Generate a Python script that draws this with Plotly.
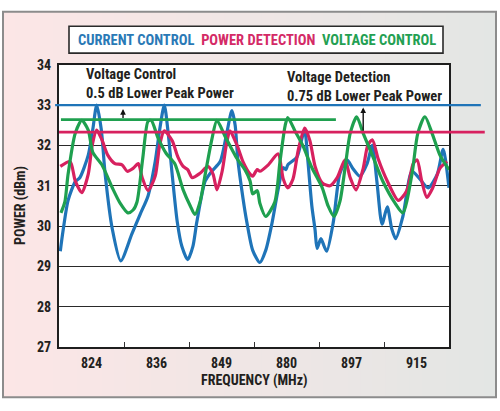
import plotly.graph_objects as go

# ---------------- data (x in band units: 0..6 across the six frequency bands) ----------------
freq_labels = ["824", "836", "849", "880", "897", "915"]

cur_x = [0.02, 0.06, 0.14, 0.25, 0.32, 0.45, 0.52, 0.58, 0.65, 0.71, 0.82, 0.95, 1.12, 1.25, 1.37,
         1.48, 1.55, 1.62, 1.68, 1.74, 1.82, 1.89, 1.98, 2.06, 2.12, 2.25, 2.35, 2.48, 2.58, 2.66,
         2.71, 2.75, 2.83, 2.89, 2.98, 3.09, 3.18, 3.28, 3.37, 3.45, 3.49, 3.52, 3.66, 3.74, 3.78,
         3.83, 3.89, 3.94, 3.97, 4.03, 4.08, 4.12, 4.22, 4.32, 4.43, 4.52, 4.63, 4.74, 4.82, 4.89,
         4.97, 5.05, 5.12, 5.18, 5.29, 5.43, 5.55, 5.68, 5.82, 5.91, 6.0]
cur_y = [29.38, 29.86, 30.64, 31.1, 31.2, 31.76, 32.4, 33.0, 32.4, 31.29, 29.93, 29.14, 29.8, 30.3, 30.75,
         31.6, 32.4, 33.0, 32.3, 31.3, 30.1, 29.5, 29.17, 29.5, 30.1, 31.12, 31.36, 31.6, 32.3, 32.86,
         32.5, 31.67, 30.7, 30.1, 29.4, 29.1, 29.4, 30.1, 30.9, 31.45, 31.4, 31.52, 31.71, 32.19, 32.38,
         31.6, 30.5, 29.9, 29.45, 29.69, 29.5, 29.38, 30.1, 31.3, 31.64, 31.43, 31.24, 31.55, 32.0, 31.12,
         30.05, 30.48, 29.93, 29.69, 30.24, 31.36, 31.17, 30.95, 31.29, 31.9, 30.95]

pwr_x = [0.02, 0.17, 0.25, 0.35, 0.45, 0.51, 0.58, 0.66, 0.75, 0.86, 0.97, 1.05, 1.14, 1.22, 1.28,
         1.37, 1.48, 1.55, 1.62, 1.74, 1.83, 1.91, 1.98, 2.05, 2.17, 2.29, 2.37, 2.43, 2.51, 2.58,
         2.63, 2.74, 2.83, 2.94, 2.98, 3.05, 3.09, 3.22, 3.37, 3.45, 3.52, 3.6, 3.68, 3.78, 3.86,
         3.94, 4.05, 4.17, 4.28, 4.4, 4.48, 4.57, 4.68, 4.75, 4.82, 4.91, 5.05, 5.22, 5.35, 5.45,
         5.51, 5.58, 5.66, 5.75, 5.86, 5.97]
pwr_y = [31.48, 31.6, 31.12, 30.83, 31.29, 32.0, 32.38, 32.14, 31.76, 31.55, 31.52, 31.36, 31.43, 31.55, 31.2,
         30.88, 31.24, 32.02, 32.36, 32.12, 31.71, 31.48, 31.4, 31.2, 31.31, 31.48, 31.29, 30.9, 31.36, 32.07,
         32.36, 32.0, 31.6, 31.29, 31.24, 31.4, 31.36, 31.52, 31.79, 31.17, 30.95, 31.17, 31.88, 32.43, 32.12,
         31.48, 31.07, 31.0, 31.2, 31.64, 31.2, 30.9, 31.43, 32.0, 32.14, 31.67, 31.12, 30.64, 30.88, 31.55,
         31.64, 31.12, 30.71, 30.95, 31.43, 31.6]

vlt_x = [0.03, 0.09, 0.14, 0.25, 0.35, 0.45, 0.52, 0.66, 0.82, 0.94, 1.06, 1.14, 1.2, 1.29, 1.37,
         1.42, 1.52, 1.65, 1.78, 1.91, 2.02, 2.09, 2.17, 2.25, 2.35, 2.43, 2.55, 2.74, 2.86, 2.94,
         2.98, 3.05, 3.09, 3.18, 3.32, 3.4, 3.48, 3.52, 3.63, 3.75, 3.89, 4.05, 4.14, 4.23, 4.32,
         4.4, 4.48, 4.58, 4.68, 4.82, 4.98, 5.17, 5.29, 5.43, 5.52, 5.63, 5.74, 5.86, 6.0]
vlt_y = [30.33, 30.6, 31.29, 32.3, 32.62, 32.38, 31.83, 31.52, 30.95, 30.57, 30.33, 30.4, 30.6, 31.7, 32.6,
         32.62, 32.2, 31.8, 31.55, 30.9, 30.5, 30.29, 30.6, 31.29, 32.14, 32.62, 32.24, 31.67, 31.4, 31.12,
         30.8, 30.88, 30.57, 30.24, 30.6, 31.6, 32.5, 32.69, 32.36, 32.0, 31.45, 30.95, 30.5, 30.24, 30.6,
         31.43, 32.3, 32.71, 32.3, 31.76, 31.12, 30.57, 30.33, 31.29, 32.3, 32.71, 32.3, 31.76, 31.4]

# peak-power reference levels (dBm) and their horizontal extents (band units)
ref_names = ["CURRENT CONTROL", "POWER DETECTION", "VOLTAGE CONTROL"]
ref_levels = [33.0, 32.33, 32.64]
ref_x_start = [-0.06, 0.0, 0.03]
ref_x_end = [6.49, 6.55, 4.26]

notes = ["Voltage Control<br>0.5 dB Lower Peak Power", "Voltage Detection<br>0.75 dB Lower Peak Power"]

# ---------------- style ----------------
W, H = 500, 411
BLUE, PINK, GREEN = "#1f74b8", "#d7215f", "#1fa04f"
FONT = "Liberation Sans Narrow, Roboto Condensed, DejaVu Sans Condensed, Roboto, sans-serif"
TXT = "#231f20"

PL, PR, PT, PB = 59, 449, 59, 353   # plot-box edges in px
def px(x): return x / W
def py(y): return 1 - y / H

xdom = [px(PL), px(PR)]
ydom = [py(PB), py(PT)]
upx = 6 / (PR - PL)                  # band units per pixel
x2dom = [0.10, 0.98]
x2rng = [(x2dom[0] * W - PL) * upx, (x2dom[1] * W - PL) * upx]

fig = go.Figure()
for xs, ys, c in [(cur_x, cur_y, BLUE), (pwr_x, pwr_y, PINK), (vlt_x, vlt_y, GREEN)]:
    fig.add_trace(go.Scatter(x=xs, y=ys, mode="lines", line=dict(color=c, width=3.2, shape="spline", smoothing=0.7),
                             showlegend=False, hoverinfo="skip"))

for lv, x0, x1, c, w in zip(ref_levels, ref_x_start, ref_x_end, [BLUE, PINK, GREEN], [2.2, 2.6, 2.6]):
    fig.add_trace(go.Scatter(x=[x0, x1], y=[lv, lv], mode="lines", line=dict(color=c, width=w),
                             xaxis="x2", yaxis="y2", showlegend=False, hoverinfo="skip"))

shapes = []
# background gradient (pink -> gray) inside a gray frame
n = 40
c0, c1 = (252, 230, 230), (227, 230, 228)
fx0, fx1, fy0, fy1 = 3, 496, 4, 405
for i in range(n):
    t = i / (n - 1)
    col = "rgb(%d,%d,%d)" % tuple(round(a + (b - a) * t) for a, b in zip(c0, c1))
    shapes.append(dict(type="rect", xref="paper", yref="paper", layer="below",
                       x0=px(fx0 + (fx1 - fx0) * i / n), x1=px(fx0 + (fx1 - fx0) * (i + 1) / n) + 0.002,
                       y0=py(fy1), y1=py(fy0), fillcolor=col, line=dict(width=0)))
shapes.append(dict(type="rect", xref="paper", yref="paper", layer="below",
                   x0=px(fx0), x1=px(fx1), y0=py(fy1), y1=py(fy0),
                   line=dict(color="#8c8c8c", width=2), fillcolor="rgba(0,0,0,0)"))
# white plot area
shapes.append(dict(type="rect", xref="x domain", yref="y domain", layer="below",
                   x0=0, x1=1, y0=0, y1=1, fillcolor="white", line=dict(width=0)))
# legend box
shapes.append(dict(type="rect", xref="paper", yref="paper", layer="above",
                   x0=px(69), x1=px(443), y0=py(47), y1=py(19),
                   fillcolor="white", line=dict(color="#2a2a2a", width=1.6)))

annotations = []
leg_text = "  ".join("<span style='color:%s'>%s</span>" % (c, n_) for c, n_ in
                     zip(["#2a79b6", "#d42a66", "#23a052"], ref_names))
annotations.append(dict(xref="paper", yref="paper", x=px(257), y=py(33.5), xanchor="center", yanchor="middle",
                        text=leg_text, showarrow=False, font=dict(family=FONT, size=14.5, weight="bold")))
for txt, xx, yy in zip(notes, [85, 286], [79, 82]):
    annotations.append(dict(xref="paper", yref="paper", x=px(xx), y=py(yy), xanchor="left", yanchor="middle",
                            text=txt, showarrow=False, borderpad=0, align="left",
                            font=dict(family=FONT, size=14.5, color=TXT, weight="bold")))
annotations.append(dict(xref="paper", yref="paper", x=px(21), y=py(206), textangle=-90,
                        xanchor="center", yanchor="middle", text="POWER (dBm)", showarrow=False,
                        font=dict(family=FONT, size=14, color=TXT, weight="bold")))
annotations.append(dict(xref="paper", yref="paper", x=px(254), y=py(388),
                        xanchor="center", yanchor="middle", text="FREQUENCY (MHz)", showarrow=False,
                        borderpad=0, font=dict(family=FONT, size=14, color=TXT, weight="bold")))
# arrows: from lower reference level up to current-control peak
for xa, y_from, y_to in [(0.985, ref_levels[2], 32.9), (4.68, ref_levels[1], 32.94)]:
    annotations.append(dict(xref="x", yref="y", axref="x", ayref="y", x=xa, y=y_to, ax=xa, ay=y_from,
                            text="", showarrow=True, arrowhead=2, arrowsize=0.8, arrowwidth=1.4,
                            arrowcolor="#111", standoff=0, startstandoff=0))

fig.update_layout(
    width=W, height=H, margin=dict(l=0, r=0, t=0, b=0),
    paper_bgcolor="white", plot_bgcolor="rgba(0,0,0,0)",
    shapes=shapes, annotations=annotations, showlegend=False,
    xaxis=dict(domain=xdom, range=[0, 6], tickvals=[i + 0.5 for i in range(6)], ticktext=freq_labels,
               showgrid=False, zeroline=False, showline=True, mirror=True, linecolor="#1e1e1e", linewidth=2,
               ticks="outside", ticklen=2, tickcolor="rgba(0,0,0,0)",
               tickfont=dict(family=FONT, size=14, color=TXT, weight="bold"),
               minor=dict(tickvals=[1, 2, 3, 4, 5], ticks="inside", ticklen=5, tickcolor="#333", tickwidth=1),
               fixedrange=True),
    yaxis=dict(domain=ydom, range=[27, 34], dtick=1, showgrid=True, gridcolor="#2a2a2a", gridwidth=1,
               zeroline=False, showline=True, mirror=True, linecolor="#1e1e1e", linewidth=2,
               ticks="outside", ticklen=3, tickcolor="rgba(0,0,0,0)",
               tickfont=dict(family=FONT, size=14, color=TXT, weight="bold"), fixedrange=True),
    xaxis2=dict(domain=x2dom, range=x2rng, anchor="y2", visible=False, fixedrange=True),
    yaxis2=dict(domain=ydom, range=[27, 34], anchor="x2", visible=False, fixedrange=True),
)

fig.write_html("out.html")
